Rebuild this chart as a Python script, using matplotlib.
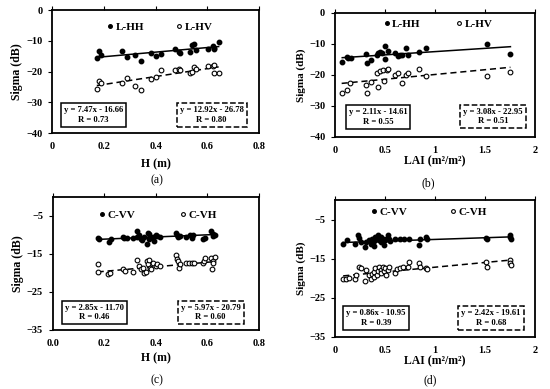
import numpy as np
import matplotlib
matplotlib.use("Agg")
import matplotlib.pyplot as plt

plt.rcParams['font.family'] = ['Liberation Serif', 'DejaVu Serif']
plt.rcParams['font.weight'] = 'bold'

# (a) sigma vs H, L band
h_a = [0.173, 0.182, 0.188, 0.271, 0.291, 0.321, 0.344, 0.381, 0.402, 0.421, 0.474,
       0.492, 0.494, 0.533, 0.542, 0.549, 0.555, 0.603, 0.622, 0.625, 0.627, 0.643]
lhh_a = [-15.7, -13.2, -14.6, -13.3, -15.4, -14.6, -16.4, -13.8, -15.0, -14.2, -12.7,
         -13.6, -13.9, -13.6, -11.4, -11.0, -12.9, -12.8, -11.6, -12.2, -12.6, -10.3]
lhv_a = [-25.8, -23.1, -23.6, -23.8, -22.0, -24.8, -25.9, -22.4, -21.9, -19.6, -19.5,
         -19.0, -19.6, -20.4, -20.1, -18.4, -19.0, -18.2, -18.2, -20.6, -18.0, -20.6]

# (b) sigma vs LAI, L band
lai_hh_b = [0.073, 0.117, 0.133, 0.157, 0.31, 0.317, 0.36, 0.417, 0.433, 0.45, 0.467, 0.50,
            0.50, 0.527, 0.60, 0.633, 0.65, 0.667, 0.71, 0.727, 0.843, 0.91, 1.517, 1.753]
lhh_b = [-15.7, -14.3, -14.4, -14.4, -13.2, -16.2, -15.2, -13.5, -12.8, -12.5, -13.0, -10.6,
         -14.8, -12.2, -13.0, -13.9, -13.5, -13.5, -11.2, -13.5, -12.5, -11.2, -10.1, -13.2]
lai_hv_b = [0.067, 0.117, 0.15, 0.31, 0.317, 0.36, 0.417, 0.433, 0.45, 0.483, 0.517,
            0.533, 0.493, 0.60, 0.633, 0.667, 0.71, 0.727, 0.843, 0.91, 1.517, 1.753]
lhv_b = [-25.7, -24.8, -22.7, -23.2, -25.9, -22.2, -19.5, -23.8, -18.9, -18.4, -18.3,
         -18.1, -21.9, -20.0, -19.5, -22.5, -20.0, -19.5, -18.2, -20.3, -20.3, -19.0]

# (c) sigma vs H, C band
h_vv_c = [0.176, 0.180, 0.219, 0.224, 0.271, 0.276, 0.289, 0.312, 0.328, 0.328, 0.335, 0.341,
          0.347, 0.353, 0.364, 0.368, 0.374, 0.374, 0.390, 0.394, 0.400, 0.406, 0.416, 0.478,
          0.480, 0.484, 0.493, 0.517, 0.532, 0.539, 0.545, 0.581, 0.590, 0.612, 0.620, 0.622, 0.630]
cvv_c = [-10.8, -11.0, -11.9, -11.2, -10.6, -10.8, -10.8, -10.7, -9.1, -10.6, -10.1, -11.0,
         -11.4, -10.6, -12.3, -9.4, -9.9, -11.0, -10.6, -11.7, -10.1, -10.3, -10.6, -9.4,
         -10.1, -10.6, -10.3, -10.6, -10.1, -10.8, -10.1, -11.2, -10.8, -9.1, -10.3, -9.9, -10.1]
h_vh_c = [0.176, 0.174, 0.215, 0.221, 0.271, 0.280, 0.312, 0.328, 0.335, 0.341, 0.349, 0.353,
          0.361, 0.364, 0.368, 0.374, 0.377, 0.380, 0.390, 0.400, 0.405, 0.416, 0.478, 0.480,
          0.484, 0.490, 0.493, 0.517, 0.530, 0.539, 0.548, 0.581, 0.588, 0.590, 0.614, 0.616,
          0.620, 0.622, 0.630]
cvh_c = [-17.6, -19.7, -20.4, -20.0, -19.1, -19.4, -19.7, -16.7, -18.2, -19.1, -18.7, -20.0,
         -19.7, -16.9, -17.8, -16.7, -18.6, -19.1, -17.5, -18.2, -17.8, -18.2, -15.4, -16.4,
         -16.9, -18.8, -17.8, -17.5, -17.3, -17.5, -17.5, -17.5, -16.9, -16.0, -16.2, -19.1,
         -16.9, -17.5, -15.8]

# (d) sigma vs LAI, C band
lai_vv_d = [0.082, 0.119, 0.2, 0.227, 0.243, 0.26, 0.3, 0.31, 0.345, 0.362, 0.372, 0.389, 0.395,
            0.405, 0.423, 0.429, 0.439, 0.456, 0.463, 0.48, 0.49, 0.503, 0.514, 0.53, 0.537,
            0.547, 0.598, 0.649, 0.693, 0.74, 0.841, 0.851, 0.909, 0.919, 1.51, 1.516, 1.746,
            1.753, 1.756]
cvv_d = [-11.2, -10.3, -11.2, -9.0, -9.7, -10.7, -12.0, -10.7, -10.3, -11.2, -9.9, -10.6, -11.8,
         -9.5, -9.9, -8.9, -10.3, -9.5, -10.7, -9.9, -11.4, -10.3, -9.9, -8.9, -9.9,
         -10.6, -9.9, -9.9, -9.9, -9.9, -11.4, -9.9, -9.5, -9.9, -9.7, -10.1, -9.0,
         -9.5, -9.9]
lai_vh_d = [0.082, 0.108, 0.142, 0.2, 0.21, 0.243, 0.26, 0.3, 0.31, 0.345, 0.362, 0.372, 0.389,
            0.395, 0.405, 0.423, 0.429, 0.439, 0.456, 0.463, 0.48, 0.49, 0.503, 0.514, 0.53,
            0.537, 0.598, 0.615, 0.649, 0.683, 0.733, 0.74, 0.841, 0.851, 0.909, 0.919, 1.51,
            1.516, 1.746, 1.753, 1.756]
cvh_d = [-20.1, -20.1, -19.9, -20.1, -19.2, -17.1, -17.5, -20.7, -17.9, -19.2, -20.2, -19.0,
         -18.5, -19.6, -17.5, -19.2, -18.2, -17.1, -17.9, -18.8, -17.1, -18.2, -17.5, -19.2,
         -17.9, -17.1, -18.8, -17.7, -17.3, -17.1, -17.1, -15.8, -16.2, -17.1, -17.3, -17.7,
         -15.8, -17.1, -15.4, -16.2, -16.7]

# fitted lines (slope, intercept, R) as printed in the boxes
fit_a = [(7.47, -16.66, 0.73), (12.92, -26.78, 0.80)]
fit_b = [(2.11, -14.61, 0.55), (3.08, -22.95, 0.51)]
fit_c = [(2.85, -11.70, 0.46), (5.97, -20.79, 0.60)]
fit_d = [(0.86, -10.95, 0.39), (2.42, -19.61, 0.68)]


def eq_text(f):
    sign = '-' if f[1] < 0 else '+'
    return "y = %.2fx %s %.2f\nR = %.2f" % (f[0], sign, abs(f[1]), f[2])


def panel(rect, x1, y1, x2, y2, fits, names, xlim, xticks, xlabels, ylim, yticks,
          xlabel, xlpad, leg_pos, colsp, box_l, box_r, ylab_size):
    ax = fig.add_axes(rect)
    ax.plot(x1, y1, 'o', color='black', ms=3.2, label=names[0], zorder=3)
    ax.plot(x2, y2, 'o', mfc='white', mec='black', mew=0.8, ms=3.4, label=names[1], zorder=3)
    for f, xs, ls in [(fits[0], x1, '-'), (fits[1], x2, '--')]:
        xx = np.array([min(xs), max(xs)])
        ln, = ax.plot(xx, f[0] * xx + f[1], color='black', lw=1.1, ls=ls)
        if ls == '--':
            ln.set_dashes((4, 2.5))
    ax.set_xlim(xlim)
    ax.set_ylim(ylim)
    ax.set_xticks(xticks)
    ax.set_xticklabels(xlabels)
    ax.set_yticks(yticks)
    ax.set_yticklabels(["\u2212%d" % abs(v) if v < 0 else "%d" % v for v in yticks])
    ax.tick_params(axis='x', top=True, bottom=False, labeltop=False, labelbottom=True,
                   direction='out', length=3, width=0.8, labelsize=7.5, pad=3.5)
    ax.tick_params(axis='y', direction='out', length=3, width=0.8, labelsize=7.5, pad=4)
    for s in ax.spines.values():
        s.set_linewidth(1.3)
    ax.set_xlabel(xlabel, fontsize=8.5, fontweight='bold', labelpad=xlpad)
    ax.set_ylabel('Sigma (dB)', fontsize=ylab_size, fontweight='bold', labelpad=2)
    ax.legend(loc='center', bbox_to_anchor=leg_pos, ncol=2, frameon=False,
              handlelength=0.6, handletextpad=0.2, columnspacing=colsp,
              prop={'size': 8, 'weight': 'bold'}, markerscale=0.8)
    ax.text(box_l[0], box_l[1], eq_text(fits[0]), transform=ax.transAxes, ha='center',
            va='center', fontsize=6.2, fontweight='bold', linespacing=1.3,
            bbox=dict(boxstyle='square,pad=0.35', fc='white', ec='black', lw=1.1))
    ax.text(box_r[0], box_r[1], eq_text(fits[1]), transform=ax.transAxes, ha='center',
            va='center', fontsize=6.2, fontweight='bold', linespacing=1.3,
            bbox=dict(boxstyle='square,pad=0.35', fc='white', ec='black', lw=1.1, ls='--'))
    return ax


fig = plt.figure(figsize=(5.5, 3.89), dpi=100)

panel([0.0945, 0.658, 0.377, 0.316], h_a, lhh_a, h_a, lhv_a, fit_a, ['L-HH', 'L-HV'],
      (0, 0.8), [0, 0.2, 0.4, 0.6, 0.8], ['0', '0.2', '0.4', '0.6', '0.8'],
      (-40, 0), [0, -10, -20, -30, -40], 'H (m)', 5, (0.52, 0.86), 2.8,
      (0.20, 0.145), (0.77, 0.145), 8.5)

panel([0.609, 0.648, 0.364, 0.319], lai_hh_b, lhh_b, lai_hv_b, lhv_b, fit_b, ['L-HH', 'L-HV'],
      (0, 2), [0, 0.5, 1, 1.5, 2], ['0', '0.5', '1', '1.5', '2'],
      (-40, 0), [0, -10, -20, -30, -40], 'LAI (m\u00b2/m\u00b2)', 0, (0.515, 0.91), 3.2,
      (0.215, 0.16), (0.79, 0.165), 8)

panel([0.096, 0.152, 0.375, 0.342], h_vv_c, cvv_c, h_vh_c, cvh_c, fit_c, ['C-VV', 'C-VH'],
      (0, 0.8), [0, 0.2, 0.4, 0.6, 0.8], ['0.0', '0.2', '0.4', '0.6', '0.8'],
      (-35, 0), [-5, -15, -25, -35], 'H (m)', 3, (0.51, 0.865), 4.0,
      (0.20, 0.13), (0.765, 0.13), 8.5)

panel([0.609, 0.134, 0.364, 0.352], lai_vv_d, cvv_d, lai_vh_d, cvh_d, fit_d, ['C-VV', 'C-VH'],
      (0, 2), [0, 0.5, 1, 1.5, 2], ['0', '0.5', '1', '1.5', '2'],
      (-35, 0), [-5, -15, -25, -35], 'LAI (m\u00b2/m\u00b2)', 0, (0.47, 0.91), 3.8,
      (0.205, 0.14), (0.78, 0.14), 8)

for lab, x, y in [('(a)', 157, 180), ('(b)', 428, 183), ('(c)', 157, 380), ('(d)', 430, 380)]:
    fig.text(x / 550, 1 - y / 389, lab, ha='center', va='center', fontsize=8.5,
             fontweight='normal')

fig.savefig('out.png', dpi=100)
